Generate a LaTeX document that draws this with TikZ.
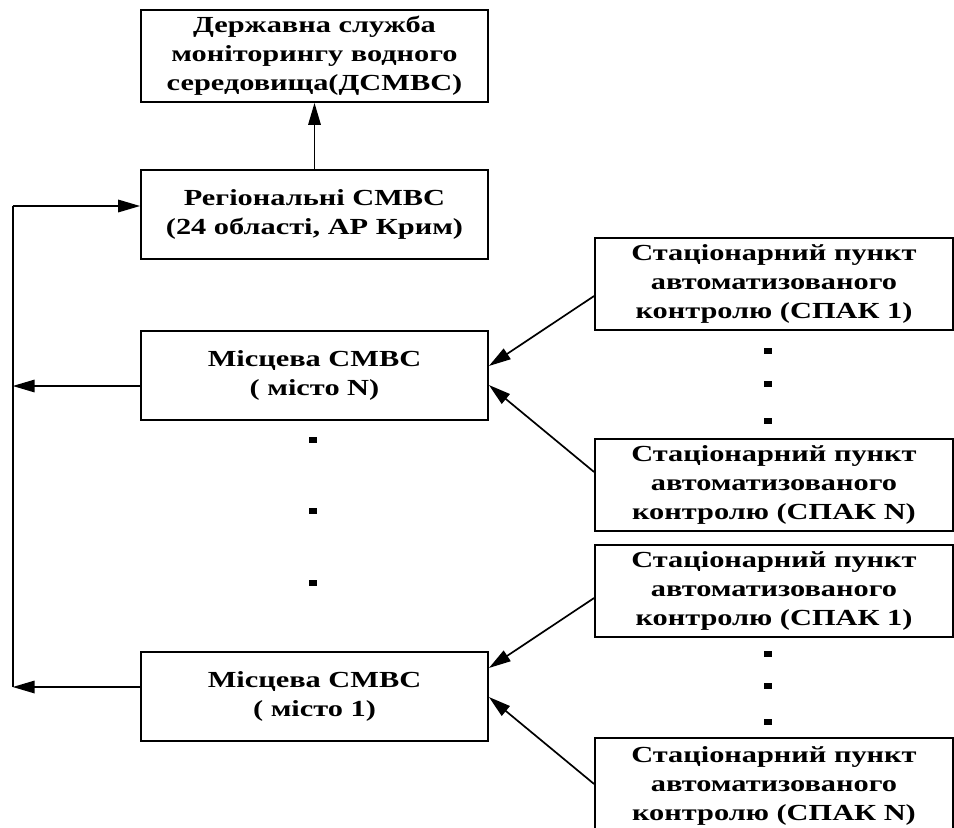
\documentclass[tikz,border=0pt]{standalone}
\usepackage{fontspec}
\setmainfont{Liberation Serif}
\newfontfamily\blokfont{Liberation Serif}[FakeStretch=1.32]
\usetikzlibrary{arrows.meta, positioning}

\tikzset{
  blok/.style={draw, line width=1.8pt, align=center,
    font=\blokfont\fontsize{23}{29}\selectfont\bfseries, inner sep=0pt},
  lblok/.style={blok, minimum width=347pt, minimum height=89pt},
  rblok/.style={blok, minimum width=358pt, minimum height=92pt},
  strl/.style={line width=1.7pt, -{Triangle[length=22pt, width=12.5pt]}},
  krapka/.style={fill=black}
}

\begin{document}
\begin{tikzpicture}[x=1pt, y=-1pt]
\useasboundingbox (0,0) rectangle (954,828);

% left column
\node[lblok, minimum height=92pt] (dsmvs) at (314.5,56)
  {Державна служба\\моніторингу водного\\середовища(ДСМВС)};
\node[lblok] (reg) at (314.5,214.5) {Регіональні СМВС\\(24 області, АР Крим)};
\node[lblok] (mistoN) at (314.5,375.5) {Місцева СМВС\\( місто N)};
\node[lblok] (misto1) at (314.5,696.5) {Місцева СМВС\\( місто 1)};

% right column
\node[rblok] (spak1a) at (774,284) {Стаціонарний пункт\\автоматизованого\\контролю (СПАК 1)};
\node[rblok] (spakNa) at (774,485) {Стаціонарний пункт\\автоматизованого\\контролю (СПАК N)};
\node[rblok] (spak1b) at (774,591) {Стаціонарний пункт\\автоматизованого\\контролю (СПАК 1)};
\node[rblok, minimum height=96pt] (spakNb) at (774,786) {Стаціонарний пункт\\автоматизованого\\контролю (СПАК N)};

% dots
\foreach \y in {440,511,583}
  \fill[krapka] (309,\y-3) rectangle (317,\y+3);
\foreach \y in {351,384,421,654,686,722}
  \fill[krapka] (764,\y-3) rectangle (772,\y+3);

% connectors
\coordinate (lt) at (12.7,206);
\coordinate (lN) at (12.7,386);
\coordinate (l1) at (12.7,687);

\draw[strl] (reg) -- (dsmvs);
\draw[strl] ([yshift=-10.5pt]mistoN.west) -- (lN);
\draw[strl] ([yshift=9.5pt]misto1.west) -- (l1);
\draw[line width=1.7pt] (l1) -- (lt);
\draw[strl] (lt) -- (lt -| reg.west);

\draw[strl] ([yshift=-12pt]spak1a.west) -- ([yshift=9.5pt]mistoN.east);
\draw[strl] ([yshift=13pt]spakNa.west) -- ([yshift=-9.5pt]mistoN.east);
\draw[strl] ([yshift=-7pt]spak1b.west) -- ([yshift=28.5pt]misto1.east);
\draw[strl] ([yshift=2pt]spakNb.west) -- ([yshift=-0.5pt]misto1.east);
\end{tikzpicture}
\end{document}
